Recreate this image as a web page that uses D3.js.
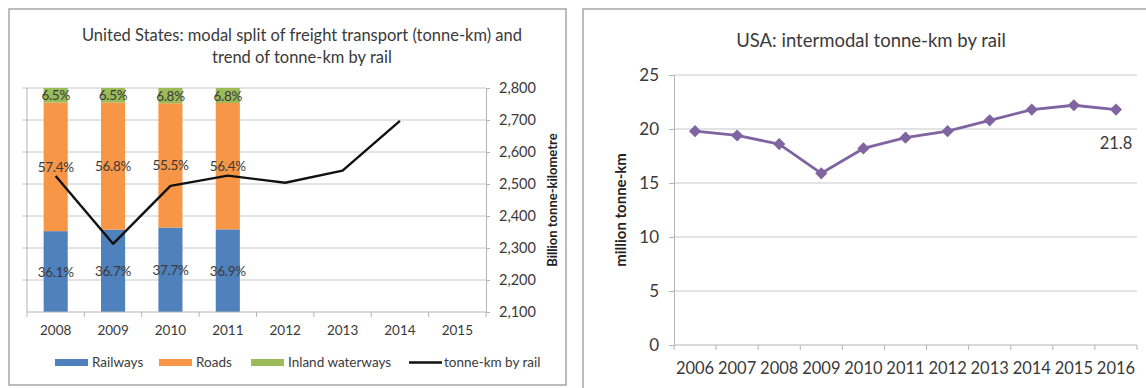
<!DOCTYPE html>
<html>
<head>
<meta charset="utf-8">
<script src="https://cdn.jsdelivr.net/npm/d3@7"></script>
<style>
  html, body { margin: 0; padding: 0; background: #fff; }
  svg { display: block; font-family: Lato, "Open Sans", sans-serif; }
</style>
</head>
<body>
<svg id="chart" width="1146" height="388"></svg>
<script>
// Left chart: modal split (shares, %) and rail tonne-km (billion)
const splitYears = ["2008", "2009", "2010", "2011", "2012", "2013", "2014", "2015"];
const railShare  = [36.1, 36.7, 37.7, 36.9];
const roadShare  = [57.4, 56.8, 55.5, 56.4];
const waterShare = [6.5, 6.5, 6.8, 6.8];
const railTkm    = [2525, 2313, 2494, 2526, 2504, 2542, 2697];
const tkmTicks   = [2100, 2200, 2300, 2400, 2500, 2600, 2700, 2800];
const modeNames  = ["Railways", "Roads", "Inland waterways"];
const lineName   = "tonne-km by rail";

// Right chart: intermodal tonne-km by rail (million)
const interYears = ["2006", "2007", "2008", "2009", "2010", "2011", "2012", "2013", "2014", "2015", "2016"];
const interTkm   = [19.8, 19.4, 18.6, 15.9, 18.2, 19.2, 19.8, 20.8, 21.8, 22.2, 21.8];
const interTicks = [0, 5, 10, 15, 20, 25];

const svg = d3.select("#chart");
const gridCol = "#c8c8c8", axisCol = "#b4b4b4", textCol = "#3a3a3a";
const modeColors = ["#4f81bd", "#f79646", "#9bbb59"];

// ---------- Left panel ----------
const L = svg.append("g");
L.append("rect").attr("x", 9).attr("y", 9).attr("width", 557).attr("height", 376)
  .attr("fill", "#fff").attr("stroke", "#a6a6a6").attr("stroke-width", 1.5);

L.append("text").attr("x", 302).attr("y", 41).attr("text-anchor", "middle")
  .attr("font-size", 16.5).attr("fill", textCol)
  .text("United States: modal split of freight transport (tonne-km) and");
L.append("text").attr("x", 302).attr("y", 63).attr("text-anchor", "middle")
  .attr("font-size", 16.5).attr("fill", textCol)
  .text("trend of tonne-km by rail");

const lx = d3.scaleBand().domain(splitYears).range([27, 486]);
const lShare = d3.scaleLinear().domain([0, 100]).range([312, 88]).clamp(true);
const lTkm = d3.scaleLinear().domain([2100, 2800]).range([312, 88]);

// gridlines
L.append("g").selectAll("line").data(tkmTicks.slice(1)).join("line")
  .attr("x1", 22).attr("x2", 486)
  .attr("y1", d => lTkm(d)).attr("y2", d => lTkm(d))
  .attr("stroke", gridCol).attr("stroke-width", 1);

// left axis line
L.append("line").attr("x1", 27).attr("x2", 27).attr("y1", 88).attr("y2", 312)
  .attr("stroke", axisCol);

// right axis
const rAxis = d3.axisRight(lTkm).tickValues(tkmTicks).tickSize(4).tickPadding(9)
  .tickFormat(d3.format(","));
const rg = L.append("g").attr("transform", "translate(486,0)").call(rAxis);
rg.select(".domain").attr("stroke", axisCol);
rg.selectAll(".tick line").attr("stroke", axisCol);
rg.selectAll("text").attr("font-size", 14.5).attr("fill", textCol).attr("font-family", "Lato");

L.append("text").attr("transform", "translate(557,200) rotate(-90)")
  .attr("text-anchor", "middle").attr("font-size", 13).attr("font-weight", "bold")
  .attr("fill", "#222").text("Billion tonne-kilometre");

// stacked bars
const stackRows = railShare.map((r, i) => ({ year: splitYears[i], r, o: roadShare[i], w: waterShare[i] }));
const series = d3.stack().keys(["r", "o", "w"])(stackRows);
const bw = lx.bandwidth() * 0.42;
series.forEach((s, si) => {
  const g = L.append("g");
  g.selectAll("rect").data(s).join("rect")
    .attr("x", d => lx(d.data.year) + (lx.bandwidth() - bw) / 2)
    .attr("width", bw)
    .attr("y", d => lShare(d[1]))
    .attr("height", d => lShare(d[0]) - lShare(d[1]))
    .attr("fill", modeColors[si]);
  g.selectAll("text").data(s).join("text")
    .attr("x", d => lx(d.data.year) + lx.bandwidth() / 2)
    .attr("y", d => (lShare(d[0]) + lShare(d[1])) / 2 + 5)
    .attr("text-anchor", "middle").attr("font-size", 13.5).attr("fill", textCol)
    .attr("letter-spacing", -0.3)
    .text(d => d3.format(".1f")(d[1] - d[0]) + "%");
});

// x axis
L.append("line").attr("x1", 27).attr("x2", 486).attr("y1", 312).attr("y2", 312).attr("stroke", axisCol);
L.append("g").selectAll("line").data(splitYears.concat(["end"])).join("line")
  .attr("x1", (d, i) => 27 + i * lx.step()).attr("x2", (d, i) => 27 + i * lx.step())
  .attr("y1", 312).attr("y2", 317).attr("stroke", axisCol);
L.append("g").selectAll("text").data(splitYears).join("text")
  .attr("x", d => lx(d) + lx.bandwidth() / 2).attr("y", 335)
  .attr("text-anchor", "middle").attr("font-size", 13.5).attr("fill", textCol)
  .text(d => d);

// rail tonne-km line
const tkmLine = d3.line()
  .x((d, i) => lx(splitYears[i]) + lx.bandwidth() / 2)
  .y(d => lTkm(d));
L.append("path").datum(railTkm).attr("d", tkmLine)
  .attr("fill", "none").attr("stroke", "#111").attr("stroke-width", 2.4)
  .attr("stroke-linejoin", "round");

// legend
const legendItems = [
  { name: modeNames[0], x: 55, tx: 92, kind: "rect", c: modeColors[0] },
  { name: modeNames[1], x: 159, tx: 196, kind: "rect", c: modeColors[1] },
  { name: modeNames[2], x: 251, tx: 288, kind: "rect", c: modeColors[2] },
  { name: lineName, x: 409, tx: 444, kind: "line", c: "#111" }
];
const lg = L.append("g");
legendItems.forEach(it => {
  if (it.kind === "rect") {
    lg.append("rect").attr("x", it.x).attr("y", 359).attr("width", 33).attr("height", 7).attr("fill", it.c);
  } else {
    lg.append("line").attr("x1", it.x).attr("x2", it.x + 33).attr("y1", 362.5).attr("y2", 362.5)
      .attr("stroke", it.c).attr("stroke-width", 2.4);
  }
  lg.append("text").attr("x", it.tx).attr("y", 367).attr("font-size", 13.5).attr("fill", textCol).text(it.name);
});

// ---------- Right panel ----------
const R = svg.append("g");
R.append("rect").attr("x", 583).attr("y", 9).attr("width", 600).attr("height", 400)
  .attr("fill", "#fff").attr("stroke", "#a6a6a6").attr("stroke-width", 1.5);

R.append("text").attr("x", 871).attr("y", 47).attr("text-anchor", "middle")
  .attr("font-size", 18.5).attr("fill", textCol).text("USA: intermodal tonne-km by rail");

const rx = d3.scaleBand().domain(interYears).range([674, 1137]);
const ry = d3.scaleLinear().domain([0, 25]).range([345, 75]);

R.append("g").selectAll("line").data(interTicks.slice(1)).join("line")
  .attr("x1", 674).attr("x2", 1137)
  .attr("y1", d => ry(d)).attr("y2", d => ry(d))
  .attr("stroke", gridCol).attr("stroke-width", 1.2);

const yAx = d3.axisLeft(ry).tickValues(interTicks).tickSize(5).tickPadding(10);
const yg = R.append("g").attr("transform", "translate(674,0)").call(yAx);
yg.select(".domain").attr("stroke", axisCol);
yg.selectAll(".tick line").attr("stroke", axisCol);
yg.selectAll("text").attr("font-size", 17).attr("fill", textCol).attr("font-family", "Lato");

R.append("line").attr("x1", 674).attr("x2", 1137).attr("y1", 345).attr("y2", 345).attr("stroke", axisCol);
R.append("g").selectAll("line").data(interYears.concat(["end"])).join("line")
  .attr("x1", (d, i) => 674 + i * rx.step()).attr("x2", (d, i) => 674 + i * rx.step())
  .attr("y1", 345).attr("y2", 350).attr("stroke", axisCol);
R.append("g").selectAll("text").data(interYears).join("text")
  .attr("x", d => rx(d) + rx.bandwidth() / 2).attr("y", 374)
  .attr("text-anchor", "middle").attr("font-size", 16.5).attr("fill", textCol)
  .text(d => d);

R.append("text").attr("transform", "translate(626,210) rotate(-90)")
  .attr("text-anchor", "middle").attr("font-size", 15).attr("font-weight", "bold")
  .attr("fill", "#222").text("million tonne-km");

const purple = "#8064a2";
const interLine = d3.line()
  .x((d, i) => rx(interYears[i]) + rx.bandwidth() / 2)
  .y(d => ry(d));
R.append("path").datum(interTkm).attr("d", interLine)
  .attr("fill", "none").attr("stroke", purple).attr("stroke-width", 2.8)
  .attr("stroke-linejoin", "round");
R.append("g").selectAll("path").data(interTkm).join("path")
  .attr("d", d3.symbol(d3.symbolDiamond2, 95)())
  .attr("transform", (d, i) => `translate(${rx(interYears[i]) + rx.bandwidth() / 2},${ry(d)})`)
  .attr("fill", purple);

// value label on the last point
const lastI = interTkm.length - 1;
R.append("text")
  .attr("x", rx(interYears[lastI]) + rx.bandwidth() / 2)
  .attr("y", ry(interTkm[lastI]) + 39)
  .attr("text-anchor", "middle").attr("font-size", 16.5).attr("fill", textCol)
  .text(d3.format(".1f")(interTkm[lastI]));
</script>
</body>
</html>
